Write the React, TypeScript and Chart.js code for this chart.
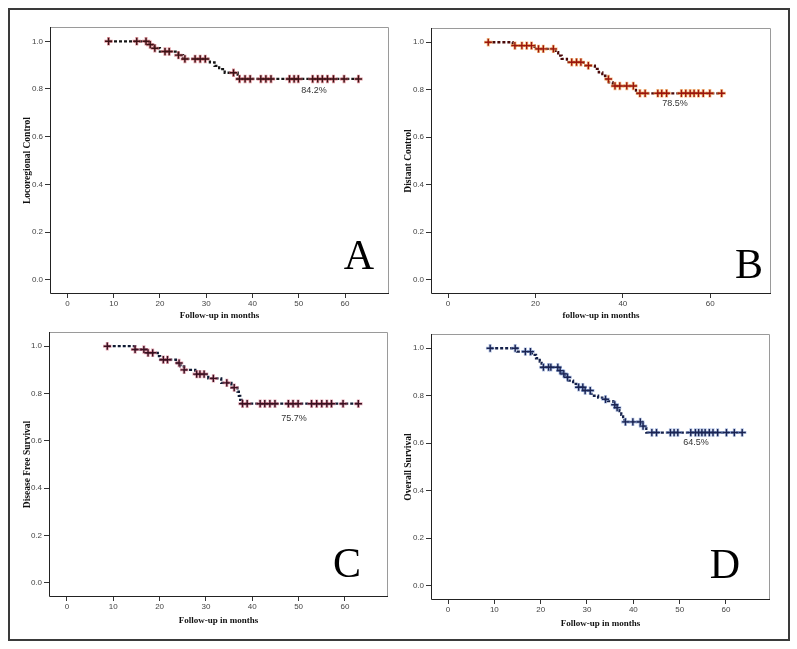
import React, { useEffect, useRef } from "react";
import { Chart, registerables } from "chart.js";
Chart.register(...registerables);

// ---------- data ----------
const yTickValues = [0, 0.2, 0.4, 0.6, 0.8, 1.0];
const xTicksBy10 = [0, 10, 20, 30, 40, 50, 60];
const xTicksBy20 = [0, 20, 40, 60];

// Panel A: Locoregional control
const startA = 9;
const endA = 63;
const eventTimesA = [17.6, 18.8, 20.0, 24.0, 25.0, 30.8, 31.8, 32.8, 34.0, 36.8];
const survivalA = [0.986, 0.971, 0.957, 0.942, 0.926, 0.912, 0.897, 0.883, 0.868, 0.842];
const censorA = [8.9, 15.0, 17.0, 17.9, 18.9, 21.1, 22.0, 24.0, 25.4, 27.6, 28.7, 29.8, 35.9, 37.2, 38.4, 39.5, 41.8, 42.9, 44.0, 48.0, 49.0, 49.9, 53.0, 54.1, 55.1, 56.2, 57.5, 59.8, 62.9];

// Panel B: Distant control
const startB = 9;
const endB = 63;
const eventTimesB = [14.8, 19.8, 24.6, 25.2, 26.0, 27.2, 31.0, 33.6, 34.5, 35.3, 36.0, 36.8, 37.7, 43.0];
const survivalB = [0.986, 0.972, 0.958, 0.944, 0.93, 0.916, 0.902, 0.888, 0.873, 0.859, 0.845, 0.831, 0.816, 0.785];
const censorB = [9.2, 15.3, 16.9, 18.0, 19.1, 20.7, 21.8, 24.1, 28.3, 29.4, 30.4, 32.1, 36.7, 38.2, 39.3, 40.9, 42.4, 43.9, 45.1, 48.0, 48.9, 50.0, 53.4, 54.4, 55.4, 56.3, 57.3, 58.4, 59.9, 62.6];

// Panel C: Disease free survival
const startC = 8.8;
const endC = 63;
const eventTimesC = [14.7, 17.2, 19.6, 20.1, 23.5, 24.5, 25.3, 27.7, 30.5, 33.3, 35.5, 36.8, 37.1, 37.4, 37.7];
const survivalC = [0.986, 0.972, 0.958, 0.943, 0.929, 0.915, 0.9, 0.882, 0.864, 0.845, 0.825, 0.808, 0.79, 0.773, 0.757];
const censorC = [8.7, 14.7, 16.6, 17.5, 18.5, 20.8, 21.7, 24.2, 25.3, 28.0, 28.7, 29.6, 31.6, 34.5, 36.1, 37.9, 38.9, 41.7, 42.7, 43.8, 44.9, 47.8, 48.8, 49.9, 52.8, 53.9, 55.0, 56.1, 57.1, 59.6, 62.9];

// Panel D: Overall survival
const startD = 9.1;
const endD = 63.5;
const eventTimesD = [14.9, 18.1, 19.0, 19.8, 20.2, 23.8, 24.6, 25.3, 26.0, 27.0, 28.0, 29.2, 30.8, 31.5, 32.4, 33.3, 34.5, 35.7, 36.2, 37.0, 37.4, 37.8, 38.1, 41.9, 42.8];
const survivalD = [0.986, 0.972, 0.958, 0.944, 0.92, 0.906, 0.892, 0.878, 0.864, 0.85, 0.836, 0.822, 0.808, 0.8, 0.792, 0.785, 0.777, 0.762, 0.75, 0.735, 0.72, 0.705, 0.69, 0.672, 0.645];
const censorD = [9.1, 14.5, 16.7, 17.8, 20.6, 21.7, 22.2, 23.7, 24.2, 25.0, 25.8, 28.2, 29.1, 29.6, 30.7, 34.0, 36.0, 36.5, 38.3, 39.9, 41.5, 42.1, 44.0, 45.0, 48.0, 48.8, 49.6, 52.4, 53.4, 54.1, 54.8, 55.5, 56.4, 57.2, 58.2, 60.1, 61.8, 63.5];

const labelsPct = ["84.2%", "78.5%", "75.7%", "64.5%"];
const panelLetters = ["A", "B", "C", "D"];
const yTitles = ["Locoregional Control", "Distant Control", "Disease Free Survival", "Overall Survival"];
const xTitles = ["Follow-up in months", "follow-up in months", "Follow-up in months", "Follow-up in months"];

// ---------- layout / style ----------
type PanelCfg = {
  start: number; end: number; events: number[]; surv: number[]; censor: number[];
  xTicks: number[]; xMin: number; xMax: number;
  canvas: { x: number; y: number; w: number; h: number };
  area: { l: number; t: number; r: number; b: number };
  yTitleX: number; xTitleY: number;
  pct: string; pctAt: [number, number];
  letter: string; letterAt: [number, number];
  yTitle: string; xTitle: string;
  lineColor: string; coreColor: string; haloColor: string;
};

const panels: PanelCfg[] = [
  {
    start: startA, end: endA, events: eventTimesA, surv: survivalA, censor: censorA,
    xTicks: xTicksBy10, xMin: -3.75, xMax: 69.5,
    canvas: { x: 0, y: 0, w: 398, h: 324 },
    area: { l: 50, t: 27, r: 389, b: 294 },
    yTitleX: 28, xTitleY: 316,
    pct: labelsPct[0], pctAt: [314, 91],
    letter: panelLetters[0], letterAt: [359, 269],
    yTitle: yTitles[0], xTitle: xTitles[0],
    lineColor: "#161616", coreColor: "#3b1115", haloColor: "rgba(215,120,130,0.75)",
  },
  {
    start: startB, end: endB, events: eventTimesB, surv: survivalB, censor: censorB,
    xTicks: xTicksBy20, xMin: -3.9, xMax: 73.9,
    canvas: { x: 398, y: 0, w: 399, h: 324 },
    area: { l: 431, t: 28, r: 771, b: 294 },
    yTitleX: 409, xTitleY: 316,
    pct: labelsPct[1], pctAt: [675, 104],
    letter: panelLetters[1], letterAt: [749, 278],
    yTitle: yTitles[1], xTitle: xTitles[1],
    lineColor: "#4a0808", coreColor: "#9a150e", haloColor: "rgba(242,168,92,0.75)",
  },
  {
    start: startC, end: endC, events: eventTimesC, surv: survivalC, censor: censorC,
    xTicks: xTicksBy10, xMin: -3.88, xMax: 69.3,
    canvas: { x: 0, y: 324, w: 398, h: 325 },
    area: { l: 49, t: 332, r: 388, b: 597 },
    yTitleX: 28, xTitleY: 621,
    pct: labelsPct[2], pctAt: [294, 419],
    letter: panelLetters[2], letterAt: [347, 577],
    yTitle: yTitles[2], xTitle: xTitles[2],
    lineColor: "#0f1a33", coreColor: "#3a1020", haloColor: "rgba(210,120,140,0.65)",
  },
  {
    start: startD, end: endD, events: eventTimesD, surv: survivalD, censor: censorD,
    xTicks: xTicksBy10, xMin: -3.67, xMax: 69.5,
    canvas: { x: 398, y: 324, w: 399, h: 325 },
    area: { l: 431, t: 334, r: 770, b: 600 },
    yTitleX: 409, xTitleY: 624,
    pct: labelsPct[3], pctAt: [696, 443],
    letter: panelLetters[3], letterAt: [725, 578],
    yTitle: yTitles[3], xTitle: xTitles[3],
    lineColor: "#14204a", coreColor: "#1b2452", haloColor: "rgba(140,165,215,0.65)",
  },
];

const Y_MIN = -0.06;
const Y_MAX = 1.06;
const Y_TITLE_SIZE = 9.5;
const X_TITLE_SIZE = 9;

function survivalAt(events: number[], surv: number[], t: number): number {
  let v = 1;
  for (let i = 0; i < events.length; i++) {
    if (events[i] <= t) v = surv[i];
  }
  return v;
}

function Panel({ cfg }: { cfg: PanelCfg }) {
  const ref = useRef<HTMLCanvasElement | null>(null);
  useEffect(() => {
    if (!ref.current) return;
    const c = cfg.canvas;
    const a = cfg.area;
    const yLh = Y_TITLE_SIZE * 1.2;
    const xLh = X_TITLE_SIZE * 1.2;
    const padLeft = cfg.yTitleX - yLh / 2 - c.x;
    const yWidth = a.l - (cfg.yTitleX - yLh / 2);
    const xBottom = cfg.xTitleY + xLh / 2;
    const padBottom = c.y + c.h - xBottom;
    const xHeight = xBottom - a.b;
    const padTop = a.t - c.y;
    const padRight = c.x + c.w - a.r;

    const curve = [
      { x: cfg.start, y: 1 },
      ...cfg.events.map((t, i) => ({ x: t, y: cfg.surv[i] })),
      { x: cfg.end, y: cfg.surv[cfg.surv.length - 1] },
    ];
    const marks = cfg.censor.map((t) => ({ x: t, y: survivalAt(cfg.events, cfg.surv, t) }));

    const annot = {
      id: "annot",
      beforeDatasetsDraw(chart: any) {
        const ca = chart.chartArea;
        const ctx = chart.ctx;
        ctx.save();
        ctx.lineWidth = 1;
        ctx.strokeStyle = "#9a9a9a";
        ctx.beginPath();
        ctx.moveTo(ca.left, ca.top + 0.5);
        ctx.lineTo(ca.right - 0.5, ca.top + 0.5);
        ctx.lineTo(ca.right - 0.5, ca.bottom);
        ctx.stroke();
        ctx.strokeStyle = "#222";
        ctx.beginPath();
        ctx.moveTo(ca.left + 0.5, ca.top);
        ctx.lineTo(ca.left + 0.5, ca.bottom - 0.5);
        ctx.lineTo(ca.right, ca.bottom - 0.5);
        ctx.stroke();
        ctx.restore();
      },
      afterDatasetsDraw(chart: any) {
        const ctx = chart.ctx;
        ctx.save();
        ctx.fillStyle = "#333";
        ctx.font = '9px "Liberation Sans", Arial, sans-serif';
        ctx.textAlign = "center";
        ctx.textBaseline = "middle";
        ctx.fillText(cfg.pct, cfg.pctAt[0] - c.x, cfg.pctAt[1] - c.y);
        ctx.fillStyle = "#000";
        ctx.font = '42px "Liberation Serif", "Times New Roman", serif';
        ctx.textBaseline = "alphabetic";
        ctx.fillText(cfg.letter, cfg.letterAt[0] - c.x, cfg.letterAt[1] - c.y);
        ctx.restore();
      },
    };

    const tickFont = { family: '"Liberation Sans", Arial, sans-serif', size: 8 };
    const chart = new Chart(ref.current, {
      type: "scatter",
      data: {
        datasets: [
          {
            data: marks, showLine: false, pointStyle: "cross", pointRadius: 3.6,
            pointBorderWidth: 1.4, pointBorderColor: cfg.coreColor, pointBackgroundColor: cfg.coreColor,
            pointHoverRadius: 3.6, order: 0,
          } as any,
          {
            data: marks, showLine: false, pointStyle: "cross", pointRadius: 4.2,
            pointBorderWidth: 3, pointBorderColor: cfg.haloColor, pointBackgroundColor: cfg.haloColor,
            pointHoverRadius: 4.2, order: 1,
          } as any,
          {
            data: curve, showLine: true, stepped: "before", borderColor: cfg.lineColor,
            borderWidth: 2.3, borderDash: [3, 2], pointRadius: 0, pointHoverRadius: 0,
            fill: false, order: 2,
          } as any,
        ],
      },
      options: {
        animation: false,
        responsive: false,
        devicePixelRatio: 1,
        events: [],
        layout: { padding: { left: padLeft, top: padTop, right: padRight, bottom: padBottom } },
        plugins: { legend: { display: false }, tooltip: { enabled: false }, title: { display: false } },
        scales: {
          x: {
            type: "linear",
            min: cfg.xMin,
            max: cfg.xMax,
            afterBuildTicks: (s: any) => { s.ticks = cfg.xTicks.map((v) => ({ value: v })); },
            afterFit: (s: any) => { s.height = xHeight; },
            grid: { display: true, drawOnChartArea: false, drawTicks: true, tickLength: 4, color: "#333", lineWidth: 1 },
            border: { display: false },
            ticks: { font: tickFont, color: "#444", padding: 1, maxRotation: 0, autoSkip: false, callback: (v: any) => String(v) },
            title: {
              display: true, text: cfg.xTitle, color: "#111", padding: 0,
              font: { family: '"Liberation Serif", "Times New Roman", serif', weight: "bold", size: X_TITLE_SIZE, lineHeight: 1.2 },
            },
          },
          y: {
            type: "linear",
            min: Y_MIN,
            max: Y_MAX,
            afterBuildTicks: (s: any) => { s.ticks = yTickValues.map((v) => ({ value: v })); },
            afterFit: (s: any) => { s.width = yWidth; },
            grid: { display: true, drawOnChartArea: false, drawTicks: true, tickLength: 5, color: "#333", lineWidth: 1 },
            border: { display: false },
            ticks: { font: tickFont, color: "#444", padding: 2, autoSkip: false, callback: (v: any) => Number(v).toFixed(1) },
            title: {
              display: true, text: cfg.yTitle, color: "#111", padding: 0,
              font: { family: '"Liberation Serif", "Times New Roman", serif', weight: "bold", size: Y_TITLE_SIZE, lineHeight: 1.2 },
            },
          },
        },
      } as any,
      plugins: [annot],
    });
    return () => chart.destroy();
  }, [cfg]);

  const c = cfg.canvas;
  return (
    <canvas
      ref={ref}
      width={c.w}
      height={c.h}
      style={{ position: "absolute", left: c.x, top: c.y, width: c.w, height: c.h }}
    />
  );
}

export default function App() {
  return (
    <div style={{ position: "fixed", left: 0, top: 0, width: 797, height: 649, background: "#fff", overflow: "hidden" }}>
      <div
        style={{
          position: "absolute", left: 8, top: 8, width: 782, height: 633,
          boxSizing: "border-box", border: "2px solid #3a3a3a",
        }}
      />
      {panels.map((p, i) => (
        <Panel key={i} cfg={p} />
      ))}
    </div>
  );
}
